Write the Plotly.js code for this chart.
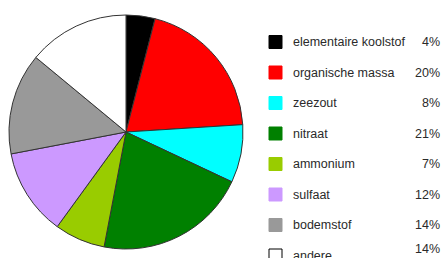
<!DOCTYPE html>
<html>
<head>
<meta charset="utf-8">
<script src="https://cdn.plot.ly/plotly-3.0.1.min.js"></script>
<style>
html,body{margin:0;padding:0;background:#fff;}
#chart{width:447px;height:258px;}
</style>
</head>
<body>
<div id="chart"></div>
<script>
const categories = ["elementaire koolstof","organische massa","zeezout","nitraat","ammonium","sulfaat","bodemstof","andere"];
const values = [4,20,8,21,7,12,14,14];
const pctLabels = ["4%","20%","8%","21%","7%","12%","14%","14%"];
const colors = ["#000000","#ff0000","#00ffff","#008000","#99cc00","#cc99ff","#999999","#ffffff"];

const W = 447, H = 258;
const cx = 126, cy = 132, r = 117;

const trace = {
  type: "pie",
  labels: categories,
  values: values,
  sort: false,
  direction: "clockwise",
  rotation: 0,
  textinfo: "none",
  hoverinfo: "label+percent",
  marker: {colors: colors, line: {color: "#333333", width: 1}},
  domain: {x: [(cx - r)/W, (cx + r)/W], y: [(H - cy - r)/H, (H - cy + r)/H]},
  showlegend: false
};

const annotations = [];
const shapes = [];
const rowY0 = 42, rowStep = 30.5;
const font = {family: "Liberation Sans, Arial, sans-serif", size: 12.5, color: "#2a2a2a"};
categories.forEach((c, i) => {
  const y = rowY0 + i*rowStep;
  const py = 1 - y/H;
  shapes.push({
    type: "rect", xref: "paper", yref: "paper",
    x0: 269/W, x1: 282/W, y0: 1 - (y + 6.5)/H, y1: 1 - (y - 6.5)/H,
    fillcolor: colors[i],
    line: {color: i === categories.length - 1 ? "#000000" : colors[i], width: 1}
  });
  annotations.push({
    xref: "paper", yref: "paper", x: 291/W, y: py, xanchor: "left", yanchor: "middle",
    text: c, showarrow: false, font: font
  });
  annotations.push({
    xref: "paper", yref: "paper", x: 442/W, y: i === categories.length - 1 ? 1 - (y - 7)/H : py,
    xanchor: "right", yanchor: "middle",
    text: pctLabels[i], showarrow: false, font: font
  });
});

const layout = {
  width: W, height: H,
  margin: {l: 0, r: 0, t: 0, b: 0},
  paper_bgcolor: "#ffffff",
  plot_bgcolor: "#ffffff",
  showlegend: false,
  annotations: annotations,
  shapes: shapes
};

Plotly.newPlot("chart", [trace], layout, {displayModeBar: false, staticPlot: true});
</script>
</body>
</html>
